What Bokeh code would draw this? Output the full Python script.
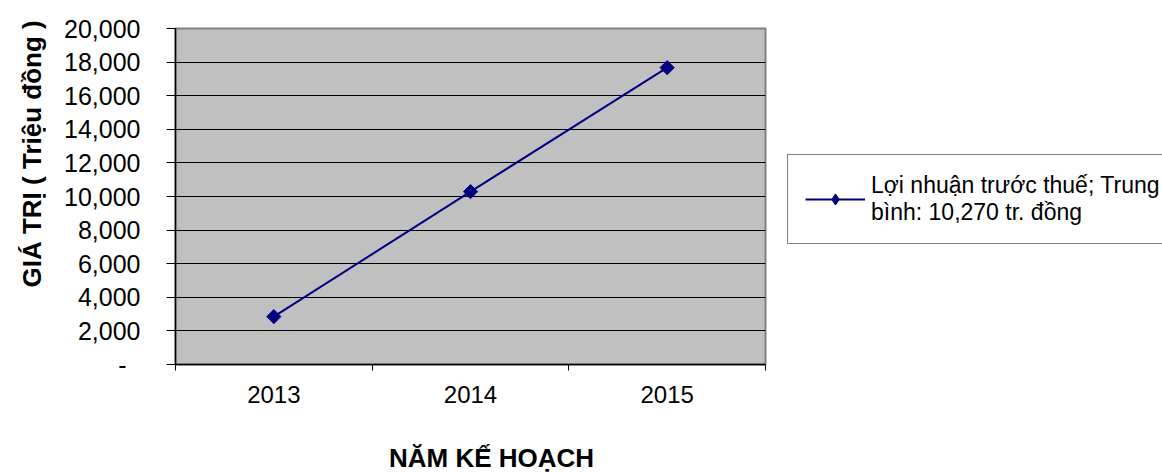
import math
from bokeh.plotting import figure
from bokeh.layouts import row
from bokeh.models import (FixedTicker, NumeralTickFormatter, Legend, LegendItem,
                          Title, Label, Range1d)
from bokeh.embed import file_html
from bokeh.resources import INLINE

# ---- data ----
years = ["2013", "2014", "2015"]
profit = [2850, 10290, 17670]          # Lợi nhuận trước thuế (triệu đồng)
series_name = "Lợi nhuận trước thuế; Trung\nbình: 10,270 tr. đồng"
y_ticks = [0, 2000, 4000, 6000, 8000, 10000, 12000, 14000, 16000, 18000, 20000]
y_title = "GIÁ TRỊ ( Triệu đồng )"
x_title = "NĂM KẾ HOẠCH"

FONT = "Liberation Sans"
NAVY = "#000080"

xs = list(range(len(years)))

# ---------------- main chart ----------------
p = figure(width=787, height=472, output_backend="svg", toolbar_location=None,
           x_range=Range1d(-0.5, len(years) - 0.5), y_range=Range1d(0, 20000),
           min_border_left=175, min_border_right=22, min_border_top=28,
           min_border_bottom=108)

p.background_fill_color = "#C0C0C0"
p.border_fill_color = "white"
p.outline_line_color = "#808080"
p.outline_line_width = 2

# y axis
p.yaxis.ticker = FixedTicker(ticks=y_ticks)
p.yaxis.formatter = NumeralTickFormatter(format="0,0")
p.yaxis.major_label_overrides = {0: "-\u2007"}
p.yaxis.major_label_text_font = FONT
p.yaxis.major_label_text_font_size = "25px"
p.yaxis.major_label_text_color = "black"
p.yaxis.major_tick_out = 9
p.yaxis.major_tick_in = 0
p.yaxis.minor_tick_line_color = None
p.yaxis.major_label_standoff = 26
p.yaxis.axis_line_color = "black"
p.yaxis.axis_line_width = 1.5
p.yaxis.major_tick_line_color = "black"

# x axis
p.xaxis.ticker = FixedTicker(ticks=xs, minor_ticks=[i - 0.5 for i in range(len(years) + 1)])
p.xaxis.major_label_overrides = {i: y for i, y in enumerate(years)}
p.xaxis.major_label_text_font = FONT
p.xaxis.major_label_text_font_size = "24px"
p.xaxis.major_label_text_color = "black"
p.xaxis.major_tick_line_color = None
p.xaxis.minor_tick_out = 6
p.xaxis.minor_tick_in = 0
p.xaxis.minor_tick_line_color = "black"
p.xaxis.major_label_standoff = 15
p.xaxis.axis_line_color = "black"
p.xaxis.axis_line_width = 1.5

# grids
p.xgrid.grid_line_color = None
p.ygrid.ticker = FixedTicker(ticks=y_ticks)
p.ygrid.grid_line_color = "black"
p.ygrid.grid_line_width = 1

# series
ln = p.line(xs, profit, line_color=NAVY, line_width=2)
mk = p.scatter(xs, profit, marker="square", size=10, angle=math.pi / 4,
               fill_color=NAVY, line_color=NAVY)

# axis titles
p.add_layout(Title(text=y_title, align="left", offset=77, standoff=29,
                   text_font=FONT, text_font_size="26px", text_font_style="bold",
                   text_color="black"), "left")
p.add_layout(Label(x=316, y=-22, x_units="screen", y_units="screen", text=x_title,
                   text_align="center", text_baseline="middle",
                   text_font=FONT, text_font_size="26px", text_font_style="bold",
                   text_color="black"), "below")

# ---------------- legend panel ----------------
p2 = figure(width=375, height=472, output_backend="svg", toolbar_location=None,
            x_range=Range1d(100, 101), y_range=Range1d(100, 101),
            x_axis_location=None, y_axis_location=None,
            min_border_left=0, min_border_right=0, min_border_top=0,
            min_border_bottom=0)
p2.grid.grid_line_color = None
p2.outline_line_color = None
p2.background_fill_color = "white"
p2.border_fill_color = "white"

# same series, outside this panel's view: only its legend glyph is shown
lg_line = p2.line(xs, profit, line_color=NAVY, line_width=2)
lg_mark = p2.scatter(xs, profit, marker="diamond", size=12,
                     fill_color=NAVY, line_color=NAVY)

legend = Legend(items=[LegendItem(label=series_name, renderers=[lg_line, lg_mark])],
                location=(0, 120), orientation="vertical",
                label_text_font=FONT, label_text_font_size="23px",
                label_text_color="black", label_standoff=6,
                glyph_width=60, glyph_height=28, padding=17, margin=0,
                spacing=0, border_line_color="black", border_line_width=1,
                background_fill_color="white", background_fill_alpha=1.0,
                label_text_line_height=1.18)
p2.add_layout(legend, "center")

open("out.html", "w").write(file_html(row(p, p2), INLINE))
